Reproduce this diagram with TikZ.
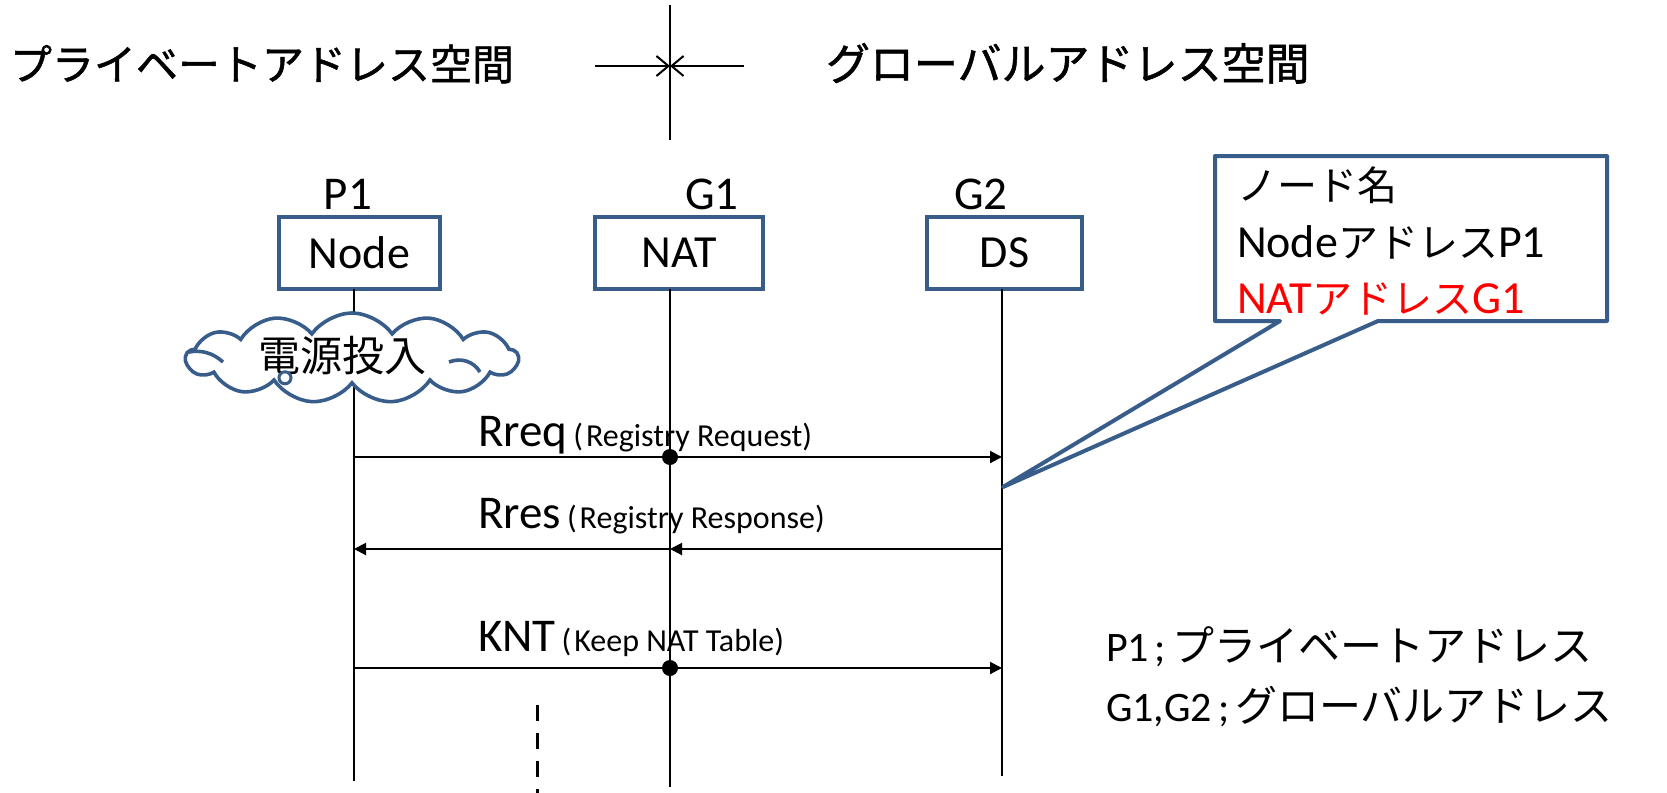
\documentclass[tikz,border=0pt]{standalone}
\usepackage{fontspec}
\setmainfont{Carlito}
\newfontfamily\jpf{Noto Sans CJK JP}
\newfontfamily\jpb[FakeBold=1.2]{Noto Sans CJK JP}
\usetikzlibrary{arrows.meta,shapes.symbols}
\definecolor{bc}{HTML}{385D8A}
\definecolor{rd}{HTML}{FF0000}
\begin{document}
\begin{tikzpicture}[x=0.5pt,y=-0.5pt,
  every node/.style={inner sep=0pt, outer sep=0pt},
  big/.style={font=\fontsize{23.5}{23.5}\selectfont},
  ttl/.style={anchor=base west},
  boxst/.style={draw=bc, line width=1.8pt, fill=white, minimum height=36pt, font=\fontsize{23}{23}\selectfont},
  life/.style={line width=1pt, black},
  msg/.style={line width=1pt, black},
  tip/.style={-{Triangle[length=6pt,width=6pt]}},
  barb/.style={-{Straight Barb[length=6pt,width=10pt,line width=1pt]}},
  dotst/.style={fill=black},
  clt/.style={anchor=base west, font=\fontsize{23}{23}\selectfont}
]
\useasboundingbox (0,0) rectangle (1667,793);

% titles
\node[ttl, font=\jpb\fontsize{21}{21}\selectfont] (tl) at (10,80) {プライベートアドレス空間};
\node[ttl, font=\jpb\fontsize{22}{22}\selectfont] (tr) at (826,80) {グローバルアドレス空間};
\coordinate (vt) at (670,5);
\coordinate (vb) at (670,140);
\draw[line width=1.2pt] (vt) -- (vb);
\coordinate (al) at (595,66);
\coordinate (ar) at (744,66);
\coordinate (am) at (670,66);
\draw[line width=1pt, barb] (al) -- (am);
\draw[line width=1pt, barb] (ar) -- (am);

% lifelines (end points)
\coordinate (eN) at (354,781);
\coordinate (eA) at (670,787);
\coordinate (eD) at (1002,776);

% boxes
\node[boxst, minimum width=80.5pt] (bN) at (359.5,253) {Node};
\node[boxst, minimum width=84pt] (bA) at (679,253) {NAT};
\node[boxst, minimum width=77.5pt] (bD) at (1004.5,253) {DS};
\node[big, anchor=base] (lP1) at (348,209) {P1};
\node[big, anchor=base] (lG1) at (712,209) {G1};
\node[big, anchor=base] (lG2) at (981,209) {G2};

\draw[life] (bN.south -| eN) -- (eN);
\draw[life] (bA.south -| eA) -- (eA);
\draw[life] (bD.south -| eD) -- (eD);

% cloud
\node[cloud, cloud puffs=13, cloud puff arc=110, aspect=4.2, draw=bc, line width=1.8pt, fill=white,
      minimum width=166pt, minimum height=45pt] (cl) at (352,358) {};
\draw[bc, line width=1.8pt] (189,352) .. controls (200,350) and (212,352) .. (223,362);
\draw[bc, line width=1.8pt] (449,362) .. controls (462,357) and (474,362) .. (480,372);
\node[font=\jpf\fontsize{21}{21}\selectfont] (clx) at (342,356) {電源投入};
\draw[bc, line width=1.5pt, fill=white] (cl.south) ++(-67,-5) circle (3pt);

% messages
\coordinate (m1N) at (354,457);
\coordinate (m1A) at (670,457);
\coordinate (m1D) at (1002,457);
\coordinate (m2N) at (354,549);
\coordinate (m2A) at (670,549);
\coordinate (m2D) at (1002,549);
\coordinate (m3N) at (354,668);
\coordinate (m3A) at (670,668);
\coordinate (m3D) at (1002,668);

\draw[msg] (m1N) -- (m1A);
\draw[msg, tip] (m1A) -- (m1D);
\fill[dotst] (m1A) circle (4pt);
\draw[msg, tip] (m2D) -- (m2A);
\draw[msg, tip] (m2A) -- (m2N);
\draw[msg] (m3N) -- (m3A);
\draw[msg, tip] (m3A) -- (m3D);
\fill[dotst] (m3A) circle (4pt);

\node[anchor=base west] (t1) at (478,446) {\fontsize{23.5}{23.5}\selectfont Rreq\hspace{3pt}\fontsize{16}{16}\selectfont(\hspace{1.5pt}Registry Request)};
\node[anchor=base west] (t2) at (478,528) {\fontsize{23.5}{23.5}\selectfont Rres\hspace{3pt}\fontsize{16}{16}\selectfont(\hspace{1.5pt}Registry Response)};
\node[anchor=base west] (t3) at (478,651) {\fontsize{23.5}{23.5}\selectfont KNT\hspace{3pt}\fontsize{16}{16}\selectfont(\hspace{1.5pt}Keep NAT Table)};

% dashed continuation
\coordinate (dT) at (537,705);
\coordinate (dB) at (537,795);
\draw[line width=1.5pt, dash pattern=on 8pt off 6pt] (dT) -- (dB);

% callout
\coordinate (ctip) at (1003,487);
\draw[bc, line width=2pt, fill=white, line join=round]
  (1215,156) -- (1607,156) -- (1607,321) -- (1378,321) -- (ctip) -- (1280,321) -- (1215,321) -- cycle;
\node[clt] (c1) at (1237,200) {{\jpf\fontsize{20}{20}\selectfont ノード名}};
\node[clt] (c2) at (1237,257) {Node{\jpf\fontsize{20}{20}\selectfont アドレス}P1};
\node[clt, text=rd] (c3) at (1237,313) {NAT{\jpf\fontsize{20}{20}\selectfont アドレス}G1};

% legend
\node[anchor=base west, font=\fontsize{21}{21}\selectfont] (g1) at (1106,661) {P1\hspace{3pt};\hspace{3pt}{\jpf\fontsize{21}{21}\selectfont プライベートアドレス}};
\node[anchor=base west, font=\fontsize{21}{21}\selectfont] (g2) at (1106,721) {G1,G2\hspace{3pt};\hspace{3pt}{\jpf\fontsize{21}{21}\selectfont グローバルアドレス}};
\end{tikzpicture}
\end{document}
